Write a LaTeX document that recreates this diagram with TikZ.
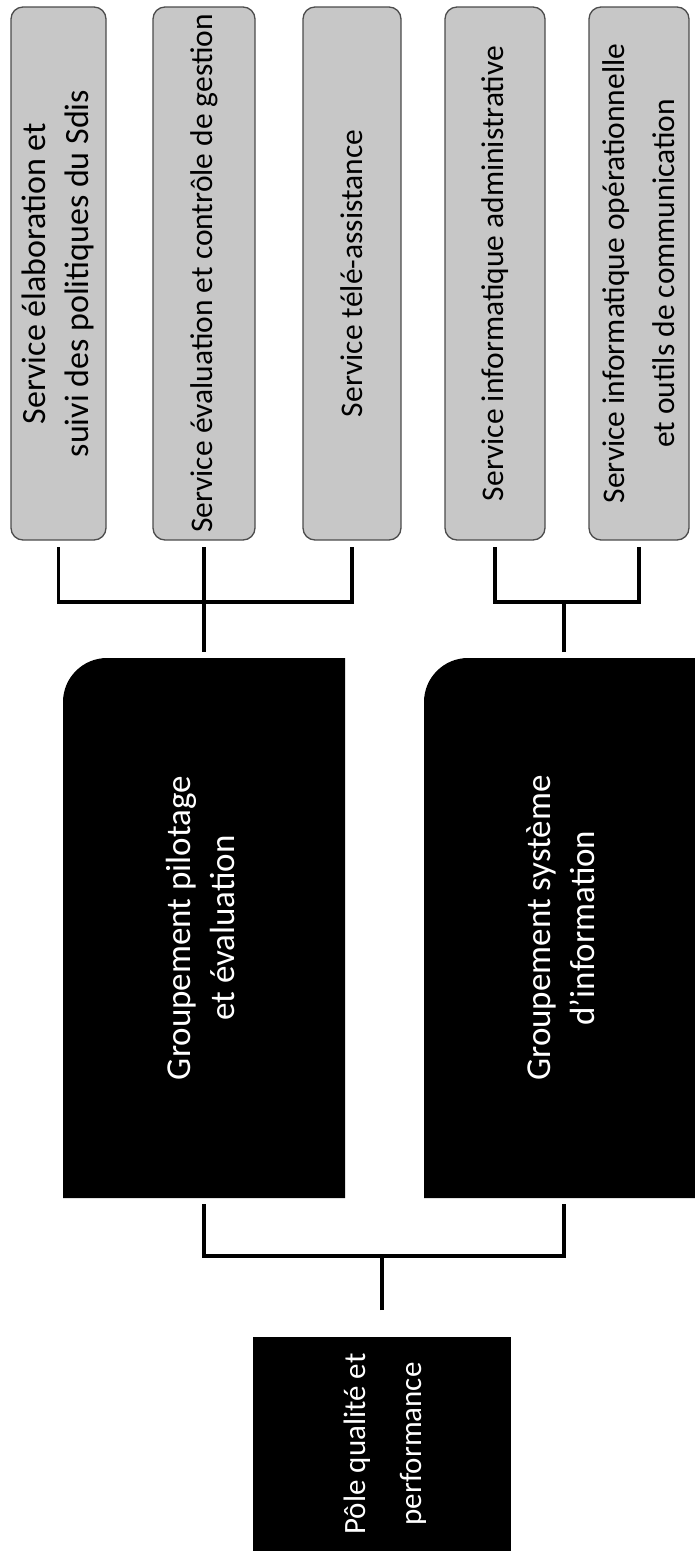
\documentclass[tikz,border=0pt]{standalone}
\usepackage{fontspec}
\setmainfont{Carlito}
\usetikzlibrary{calc,backgrounds}
\begin{document}
\begin{tikzpicture}[x=1pt,y=-1pt,
  svc/.style={draw=black!70, line width=1.3pt, fill=black!22, rounded corners=12pt,
    inner sep=0pt, outer sep=0pt, text=black, font={\fontsize{31.5}{42}\selectfont}},
  grp/.style={inner sep=0pt, outer sep=0pt, text=white, font={\fontsize{35}{44}\selectfont}},
  polebox/.style={fill=black, inner sep=0pt, outer sep=0pt, text=white, font={\fontsize{31}{56}\selectfont}},
  conn/.style={line width=3.5pt, black}]
\useasboundingbox (0,0) rectangle (694,1551);

% service boxes
\node[svc, minimum width=95pt, minimum height=533pt, font={\fontsize{34}{43}\selectfont}] (s1) at (58.5,273.5)
  {\rotatebox{90}{\begin{tabular}{@{}c@{}}Service élaboration et\\suivi des politiques du Sdis\end{tabular}}};
\node[svc, minimum width=102pt, minimum height=533pt] (s2) at (204,273.5)
  {\rotatebox{90}{Service évaluation et contrôle de gestion}};
\node[svc, minimum width=98pt, minimum height=533pt] (s3) at (352,273.5)
  {\rotatebox{90}{Service télé-assistance}};
\node[svc, minimum width=100pt, minimum height=533pt] (s4) at (495,273.5)
  {\rotatebox{90}{Service informatique administrative}};
\node[svc, minimum width=98pt, minimum height=533pt, font={\fontsize{31.5}{50}\selectfont}] (s5) at (639,273.5)
  {\rotatebox{90}{\begin{tabular}{@{}c@{}}Service informatique opérationnelle\\et outils de communication\end{tabular}}};

% groupements
\node[grp, minimum width=282pt, minimum height=540pt] (pil) at (204,928)
  {\rotatebox{90}{\begin{tabular}{@{}c@{}}Groupement pilotage\\et évaluation\end{tabular}}};
\node[grp, minimum width=280pt, minimum height=540pt] (sys) at (564,928)
  {\rotatebox{90}{\begin{tabular}{@{}c@{}}Groupement système\\d'information\end{tabular}}};

% pole
\node[polebox, minimum width=258pt, minimum height=214pt] (pole) at (382,1444)
  {\rotatebox{90}{\begin{tabular}{@{}c@{}}Pôle qualité et\\performance\end{tabular}}};

\begin{scope}[on background layer]
\fill[black] (pil.south east) -- (pil.south west) -- ($(pil.north west)+(0,44)$)
  arc[start angle=180,end angle=90,radius=44pt] -- (pil.north east) -- cycle;
\fill[black] (sys.south east) -- (sys.south west) -- ($(sys.north west)+(0,44)$)
  arc[start angle=180,end angle=90,radius=44pt] -- (sys.north east) -- cycle;
\end{scope}

% connectors
\draw[conn] ($(s1.south)+(0,7)$) -- ($(s1.south)+(0,62)$) -| ($(s3.south)+(0,7)$);
\draw[conn] ($(s2.south)+(0,7)$) -- ($(pil.north)+(0,-6)$);
\draw[conn] ($(s4.south)+(0,7)$) -- ($(s4.south)+(0,62)$) -| ($(s5.south)+(0,7)$);
\draw[conn] ($(sys.north)+(0,-6)$) -- ($(sys.north)+(0,-56)$);
\draw[conn] ($(pil.south)+(0,6)$) -- ($(pil.south)+(0,58)$) -| ($(sys.south)+(0,6)$);
\draw[conn] ($(pole.north)+(0,-27)$) -- ($(pole.north)+(0,-81)$);
\end{tikzpicture}
\end{document}
